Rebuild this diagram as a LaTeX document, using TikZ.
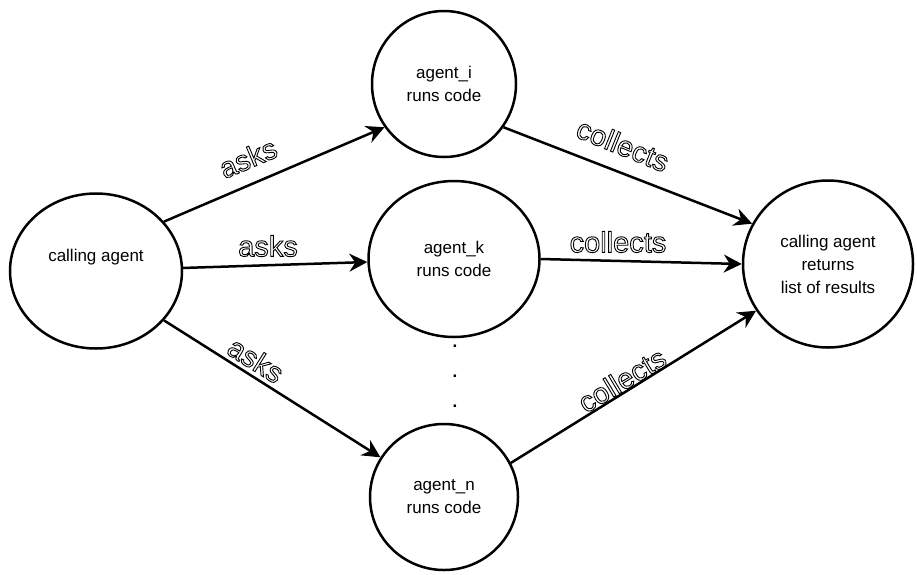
\documentclass[tikz,border=0pt]{standalone}
\usepackage{fontspec}
\setmainfont{Liberation Sans}
\usetikzlibrary{shapes.geometric,arrows.meta}
% outlined (stroked, unfilled) lettering
\newcommand{\hollow}[1]{\special{pdf:literal direct 1 Tr 0.9 w}#1\special{pdf:literal direct 0 Tr}}
\begin{document}
\begin{tikzpicture}[x=1pt,y=-1pt,
  agent/.style={ellipse,draw=black,line width=2.5pt,inner sep=0pt,align=center,
    font=\fontsize{17}{23}\selectfont},
  flow/.style={line width=2.5pt,-{Stealth[length=18pt,width=18pt,inset=6pt]}},
  lbl/.style={inner sep=0pt,font=\fontsize{29}{30}\selectfont},
  dotmark/.style={inner sep=0pt,font=\fontsize{17}{20}\selectfont\bfseries}]
\useasboundingbox (0,0) rectangle (917,574);
% agents
\node[agent,minimum width=172pt,minimum height=155pt] (ca) at (96,271) {calling agent\\[9pt]};
\node[agent,minimum width=144pt,minimum height=146pt] (ai) at (444,84) {agent\_i\\runs code};
\node[agent,minimum width=171pt,minimum height=156pt] (ak) at (454,259) {agent\_k\\runs code};
\node[agent,minimum width=148pt,minimum height=146pt] (an) at (444,497) {agent\_n\\runs code};
\node[agent,minimum width=170pt,minimum height=167pt] (res) at (828,264) {calling agent\\returns\\list of results};
% dispatch and collection
\draw[flow] (ca.36) -- (ai.216);
\draw[flow] (ca.2) -- (ak.182);
\draw[flow] (ca.-36) -- (an.148);
\draw[flow] (ai.-36) -- (res.152);
\draw[flow] (ak.0) -- (res.180);
\draw[flow] (an.27) -- (res.213);
% edge labels
\node[lbl,rotate=23] (t1) at (248,158) {\hollow{asks}};
\node[lbl] (t2) at (268,246) {\hollow{asks}};
\node[lbl,rotate=-32] (t3) at (256,360) {\hollow{asks}};
\node[lbl,rotate=-22] (t4) at (623,145) {\hollow{collects}};
\node[lbl] (t5) at (618,242) {\hollow{collects}};
\node[lbl,rotate=31] (t6) at (622,380) {\hollow{collects}};
% ellipsis between agents
\node[dotmark] (d1) at (455,346) {.};
\node[dotmark] (d2) at (455,376) {.};
\node[dotmark] (d3) at (455,406) {.};
\end{tikzpicture}
\end{document}
